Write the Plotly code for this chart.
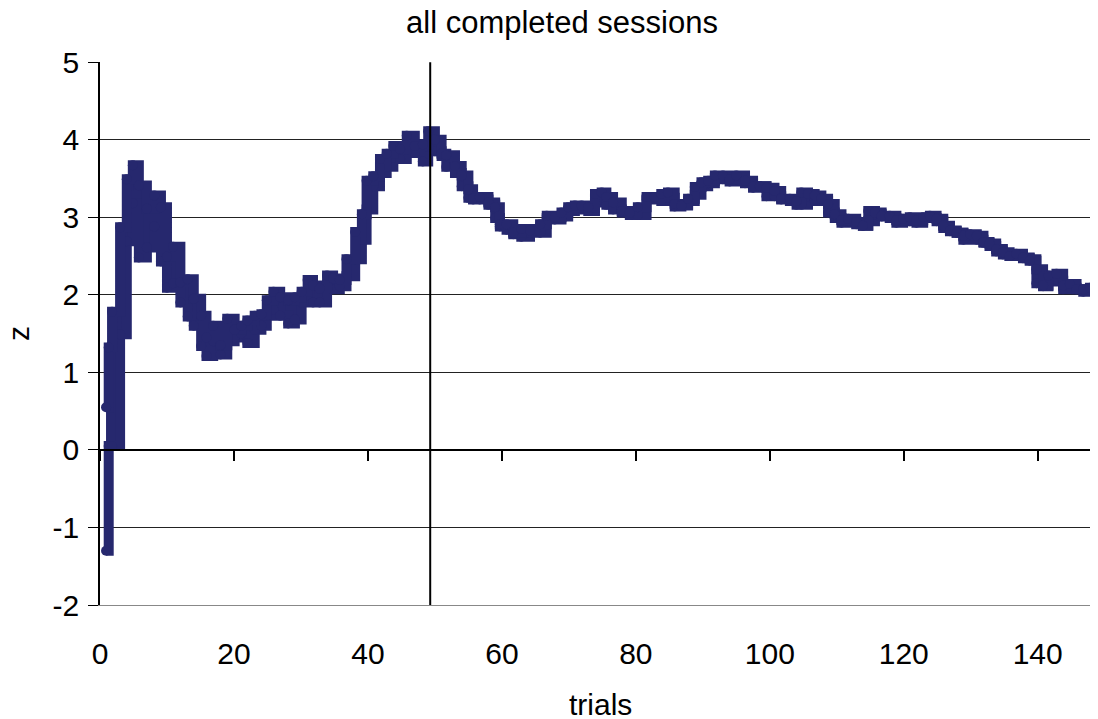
import plotly.graph_objects as go

# Station positions along trials axis, and the upper / lower extent of the plotted z values there
trial = [0.9, 1.3, 1.8, 3.0, 4.0, 4.9, 5.8, 7.0, 8.1, 9.1, 10.0, 10.9, 12.0, 13.1, 14.0, 15.1,
         15.9, 16.9, 18.0, 19.0, 20.1, 21.1, 22.0, 23.1, 24.1, 24.9, 25.9, 26.9, 28.1, 29.1,
         30.1, 31.0, 31.8, 32.8, 33.9, 34.8, 35.8, 36.8, 38.1, 39.1, 39.8, 40.8, 41.8, 42.8,
         43.8, 44.8, 45.8, 47.0, 48.2, 49.0, 50.0, 51.0, 51.7, 53.0, 54.0, 55.0, 55.7, 56.7,
         58.0, 59.0, 59.7, 60.7, 61.7, 62.9, 64.2, 65.7, 66.7, 67.9, 68.9, 69.9, 70.9, 71.9,
         72.9, 73.9, 74.9, 75.6, 76.6, 77.9, 79.1, 80.3, 81.6, 82.8, 83.8, 84.8, 85.8, 86.8,
         87.8, 88.8, 89.8, 90.8, 91.8, 93.0, 94.0, 95.0, 96.3, 97.5, 98.5, 99.5, 100.7, 101.7,
         103.0, 104.0, 104.7, 105.7, 106.7, 107.7, 108.7, 109.7, 110.7, 111.7, 112.9, 113.9,
         114.7, 115.7, 116.7, 117.9, 118.9, 119.9, 120.9, 121.9, 122.9, 123.9, 124.9, 125.9,
         126.9, 127.9, 128.9, 129.9, 130.9, 131.9, 132.8, 133.8, 134.8, 135.8, 136.8, 137.8,
         138.8, 139.8, 140.8, 141.6, 142.8, 143.8, 144.8, 145.8, 146.8, 147.8, 148.8]

z_hi = [0.55, 1.32, 1.78, 2.87, 3.49, 3.67, 3.41, 3.11, 3.28, 3.13, 2.49, 2.62, 2.16, 2.20, 1.95, 1.73,
        1.45, 1.60, 1.35, 1.69, 1.55, 1.60, 1.67, 1.73, 1.75, 1.93, 2.04, 1.97, 1.93, 1.97,
        2.04, 2.19, 2.12, 2.08, 2.25, 2.21, 2.19, 2.46, 2.81, 3.04, 3.47, 3.53, 3.75, 3.82,
        3.92, 3.88, 4.05, 3.92, 3.94, 4.11, 4.00, 3.82, 3.80, 3.66, 3.54, 3.36, 3.24, 3.26,
        3.19, 3.13, 2.91, 2.91, 2.80, 2.85, 2.83, 2.91, 3.02, 3.00, 3.06, 3.13, 3.15, 3.15,
        3.13, 3.30, 3.32, 3.26, 3.19, 3.08, 3.06, 3.13, 3.26, 3.26, 3.30, 3.32, 3.17, 3.15,
        3.24, 3.39, 3.45, 3.47, 3.54, 3.54, 3.49, 3.54, 3.47, 3.40, 3.40, 3.38, 3.34, 3.24,
        3.24, 3.21, 3.32, 3.30, 3.28, 3.24, 3.17, 3.04, 2.96, 2.98, 2.94, 2.89,
        3.08, 3.06, 3.02, 3.02, 2.96, 2.98, 3.00, 2.96, 3.00, 3.02, 2.98, 2.89,
        2.83, 2.80, 2.76, 2.78, 2.76, 2.68, 2.66, 2.59, 2.55, 2.50, 2.53, 2.48,
        2.44, 2.33, 2.12, 2.25, 2.27, 2.12, 2.14, 2.07, 2.07, 2.09, 2.03]

z_lo = [-1.30, 0.05, 0.05, 1.49, 2.69, 3.18, 2.48, 2.61, 2.88, 2.43, 2.09, 2.15, 1.90, 1.72, 1.60, 1.34,
        1.21, 1.40, 1.23, 1.40, 1.45, 1.50, 1.38, 1.55, 1.60, 1.73, 1.81, 1.73, 1.63, 1.68,
        1.90, 1.99, 1.90, 1.90, 2.09, 2.07, 2.11, 2.24, 2.46, 2.71, 3.10, 3.40, 3.57, 3.65,
        3.77, 3.75, 3.87, 3.83, 3.72, 3.91, 3.85, 3.79, 3.65, 3.57, 3.40, 3.25, 3.23, 3.23,
        3.16, 2.99, 2.88, 2.84, 2.78, 2.75, 2.80, 2.80, 2.99, 2.97, 3.01, 3.08, 3.10, 3.12,
        3.08, 3.19, 3.23, 3.16, 3.10, 3.06, 3.03, 3.03, 3.23, 3.25, 3.21, 3.25, 3.14, 3.16,
        3.21, 3.29, 3.40, 3.44, 3.51, 3.49, 3.46, 3.49, 3.44, 3.38, 3.40, 3.27, 3.27, 3.23,
        3.21, 3.16, 3.16, 3.27, 3.21, 3.21, 3.06, 2.99, 2.93, 2.95, 2.91, 2.89,
        2.95, 3.04, 3.01, 2.99, 2.93, 2.97, 2.95, 2.93, 2.99, 2.99, 2.95, 2.86,
        2.82, 2.80, 2.71, 2.76, 2.71, 2.67, 2.63, 2.56, 2.52, 2.50, 2.50, 2.47,
        2.46, 2.15, 2.11, 2.17, 2.18, 2.07, 2.09, 2.07, 2.04, 2.06, 2.00]

# boundary marker (vertical line) position in trials
boundary_trial = 49.3

x_ticks = [0, 20, 40, 60, 80, 100, 120, 140]
y_ticks = [-2, -1, 0, 1, 2, 3, 4, 5]
y_tick_text = ["-2", "-1", "0", "1", "2", "3", "4", "5"]

navy = "#26286E"
FONT = "Liberation Sans, Arial, sans-serif"
FS = 30

# page body has an 8px margin: figure coordinates are page coordinates minus 8
OFF = 8
W, H = 1098 - 2 * OFF, 719 - OFF
PLOT_L, PLOT_R, PLOT_T, PLOT_B = 100, 1098 - OFF, 62, 605   # page pixels
PX_PER_TRIAL = 998 / 149
x_max = (PLOT_R - PLOT_L) / PX_PER_TRIAL

fig = go.Figure()
fig.add_trace(go.Scatter(
    x=trial, y=z_lo, mode="lines+markers",
    line=dict(color=navy, width=10, shape="hv"),
    marker=dict(color=navy, size=10),
    xaxis="x", yaxis="y", showlegend=False, hoverinfo="skip",
))
fig.add_trace(go.Scatter(
    x=trial, y=z_hi, mode="lines+markers", fill="tonexty", fillcolor=navy,
    line=dict(color=navy, width=10, shape="hv"),
    marker=dict(color=navy, size=10),
    xaxis="x", yaxis="y", showlegend=False, hoverinfo="skip",
))
fig.add_trace(go.Scatter(
    x=[boundary_trial, boundary_trial], y=[y_ticks[0], y_ticks[-1]],
    mode="lines", line=dict(color="black", width=2),
    xaxis="x2", yaxis="y", showlegend=False, hoverinfo="skip",
))

fig.update_layout(
    width=W, height=H,
    margin=dict(l=PLOT_L - OFF, r=(W + OFF) - PLOT_R, t=PLOT_T - OFF, b=H - (PLOT_B - OFF),
                autoexpand=False),
    paper_bgcolor="white", plot_bgcolor="white",
    font=dict(family=FONT, size=FS, color="black"),
    title=dict(text="all completed sessions", x=(562 - OFF) / W, xanchor="center",
               xref="container", y=1 - (22 - OFF) / H, yref="container", yanchor="middle",
               font=dict(size=31)),
    xaxis=dict(
        range=[0, x_max], tickvals=x_ticks, ticks="", showgrid=False, automargin=False,
        zeroline=False, showline=True, linecolor="#888", linewidth=1,
        ticklabelstandoff=22,
    ),
    xaxis2=dict(
        overlaying="x", anchor="free", position=2 / 7, automargin=False,
        range=[0, x_max], tickvals=x_ticks, ticks="outside", ticklen=10,
        tickcolor="black", tickwidth=1.5, showticklabels=False, showgrid=False,
        zeroline=False, showline=True, linecolor="black", linewidth=1.5,
    ),
    yaxis=dict(
        range=[-2, 5.002], tickvals=y_ticks, ticktext=y_tick_text, ticks="outside", ticklen=10,
        tickcolor="black", showgrid=True, gridcolor="#222", gridwidth=1, automargin=False,
        zeroline=False, showline=True, linecolor="black", linewidth=1.5,
        ticklabelstandoff=3,
    ),
    annotations=[
        dict(text="trials", xref="paper", yref="paper",
             x=(600 - PLOT_L) / (PLOT_R - PLOT_L), y=(PLOT_B - 704) / (PLOT_B - PLOT_T),
             xanchor="center", yanchor="middle", showarrow=False, font=dict(size=FS)),
        dict(text="z", xref="paper", yref="paper",
             x=(18 - PLOT_L) / (PLOT_R - PLOT_L), y=(PLOT_B - 334) / (PLOT_B - PLOT_T),
             xanchor="center", yanchor="middle", showarrow=False, textangle=-90,
             font=dict(size=FS)),
    ],
)

fig.write_html("out.html")
